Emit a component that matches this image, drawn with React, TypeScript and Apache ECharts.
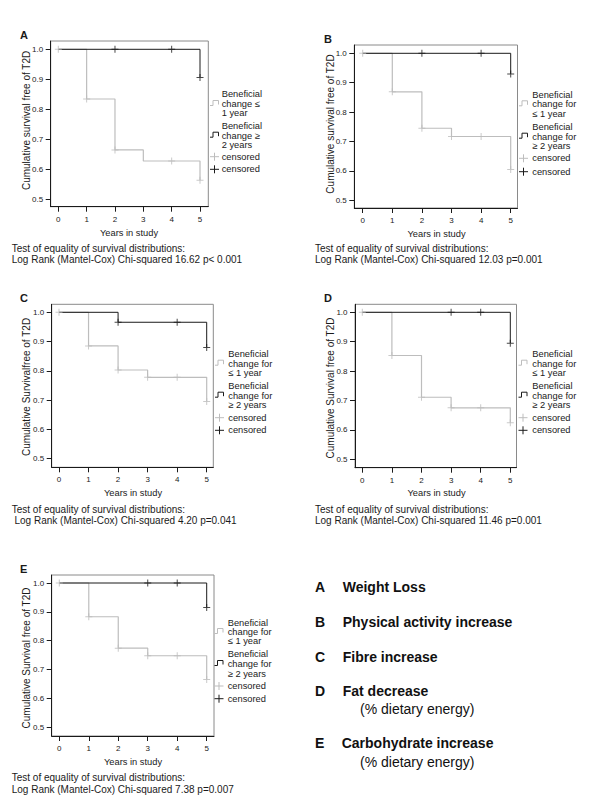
import React, { useEffect, useRef } from "react";
import * as echarts from "echarts";

// ---------- data ----------
const yearTicks = [0, 1, 2, 3, 4, 5];
const survivalTicks = [0.5, 0.6, 0.7, 0.8, 0.9, 1.0];

// A Weight loss
const A_short = [[0, 1], [1, 0.834], [2, 0.664], [3, 0.627], [5, 0.563]];
const A_long = [[0, 1], [5, 0.906]];
const A_shortCens = [[0, 1], [1, 0.834], [2, 0.664], [4, 0.627], [5, 0.563]];
const A_longCens = [[2, 1], [4, 1], [5, 0.906]];

// B Physical activity increase
const B_short = [[0, 1], [1, 0.869], [2, 0.745], [3, 0.717], [5, 0.605]];
const B_long = [[0, 1], [5, 0.93]];
const B_shortCens = [[0, 1], [1, 0.869], [2, 0.745], [3, 0.717], [4, 0.717], [5, 0.605]];
const B_longCens = [[2, 1], [4, 1], [5, 0.93]];

// C Fibre increase
const C_short = [[0, 1], [1, 0.885], [2, 0.803], [3, 0.778], [5, 0.695]];
const C_long = [[0, 1], [2, 0.966], [5, 0.88]];
const C_shortCens = [[0, 1], [1, 0.885], [2, 0.803], [3, 0.778], [4, 0.778], [5, 0.695]];
const C_longCens = [[2, 0.966], [4, 0.966], [5, 0.88]];

// D Fat decrease
const D_short = [[0, 1], [1, 0.853], [2, 0.711], [3, 0.675], [5, 0.624]];
const D_long = [[0, 1], [5, 0.895]];
const D_shortCens = [[0, 1], [1, 0.853], [2, 0.711], [3, 0.675], [4, 0.675], [5, 0.624]];
const D_longCens = [[3, 1], [4, 1], [5, 0.895]];

// E Carbohydrate increase
const E_short = [[0, 1], [1, 0.883], [2, 0.774], [3, 0.748], [5, 0.666]];
const E_long = [[0, 1], [5, 0.915]];
const E_shortCens = [[0, 1], [1, 0.883], [2, 0.774], [3, 0.748], [4, 0.748], [5, 0.666]];
const E_longCens = [[3, 1], [4, 1], [5, 0.915]];

const panelLetters = ["A", "B", "C", "D", "E"];
const yTitles = [
  "Cumulative survival free of T2D",
  "Cumulative survival free of T2D",
  "Cumulative Survivalfree of T2D",
  "Cumulative Survival free of T2D",
  "Cumulative Survival free of T2D",
];
const xTitle = "Years in study";
const testLine1 = "Test of equality of survival distributions:";
const testLine2 = [
  "Log Rank (Mantel-Cox) Chi-squared 16.62 p< 0.001",
  "Log Rank (Mantel-Cox) Chi-squared 12.03 p=0.001",
  "Log Rank (Mantel-Cox) Chi-squared 4.20 p=0.041",
  "Log Rank (Mantel-Cox) Chi-squared 11.46 p=0.001",
  "Log Rank (Mantel-Cox) Chi-squared 7.38 p=0.007",
];
const legendShort = [
  ["Beneficial", "change ≤", "1 year"],
  ["Beneficial", "change for", "≤ 1 year"],
  ["Beneficial", "change for", "≤ 1 year"],
  ["Beneficial", "change for", "≤ 1 year"],
  ["Beneficial", "change for", "≤ 1 year"],
];
const legendLong = [
  ["Beneficial", "change ≥", "2 years"],
  ["Beneficial", "change for", "≥ 2 years"],
  ["Beneficial", "change for", "≥ 2 years"],
  ["Beneficial", "change for", "≥ 2 years"],
  ["Beneficial", "change for", "≥ 2 years"],
];
const censoredLabel = "censored";

const keyLetters = ["A", "B", "C", "D", "E"];
const keyNames = ["Weight Loss", "Physical activity increase", "Fibre increase", "Fat decrease", "Carbohydrate increase"];
const keySubs = ["", "", "", "(% dietary energy)", "(% dietary energy)"];

const shortSeries = [A_short, B_short, C_short, D_short, E_short];
const longSeries = [A_long, B_long, C_long, D_long, E_long];
const shortCens = [A_shortCens, B_shortCens, C_shortCens, D_shortCens, E_shortCens];
const longCens = [A_longCens, B_longCens, C_longCens, D_longCens, E_longCens];

// ---------- layout ----------
type Layout = {
  box: [number, number, number, number];
  x0: number; x5: number; y1: number; y05: number;
  label: [number, number];
  ytitle: [number, number];
  xtitle: [number, number];
  test: [number, number, number, number];
  iconX: number; textX: number;
  lines: number[];
};
const layouts: Layout[] = [
  {
    box: [50.7, 41, 208.3, 206.7], x0: 58.3, x5: 200, y1: 49.3, y05: 199,
    label: [20, 34.5], ytitle: [26, 120.4], xtitle: [129, 232.5],
    test: [11.7, 248.3, 11.7, 259.3], iconX: 210, textX: 221.7,
    lines: [94.3, 104, 113.3, 126, 135.7, 145, 156.7, 169.3],
  },
  {
    box: [354.3, 45, 517.5, 208], x0: 362.7, x5: 510.7, y1: 53.3, y05: 200.3,
    label: [324, 39], ytitle: [330, 124], xtitle: [436.5, 234],
    test: [315, 248.3, 315, 259.3], iconX: 519, textX: 532.3,
    lines: [95, 104.3, 114, 127, 136.7, 146, 158.3, 171.7],
  },
  {
    box: [51.7, 304.3, 213.3, 467.3], x0: 59, x5: 206.7, y1: 312.3, y05: 458.7,
    label: [20, 297.5], ytitle: [26.3, 387], xtitle: [133, 493],
    test: [11.7, 509.3, 14.5, 520.5], iconX: 215, textX: 228.3,
    lines: [354, 363.7, 373, 386, 395.7, 405, 417.7, 430.3],
  },
  {
    box: [355, 304.3, 516.5, 467.7], x0: 362.3, x5: 510.3, y1: 312.3, y05: 459.3,
    label: [324, 298], ytitle: [330, 388], xtitle: [436.5, 493],
    test: [315, 509.3, 315, 520.5], iconX: 518.5, textX: 532.3,
    lines: [354.3, 363.7, 373, 386, 395.7, 405, 417.7, 430.3],
  },
  {
    box: [51.7, 575, 214, 736], x0: 59.3, x5: 206.7, y1: 583, y05: 727.3,
    label: [20, 569], ytitle: [26, 658], xtitle: [133, 762],
    test: [11.7, 777.7, 11.7, 789], iconX: 214.5, textX: 227.7,
    lines: [622.7, 632, 641.3, 654.3, 664, 673.7, 686, 698.7],
  },
];

const FONT = "'Liberation Sans', Arial, Helvetica, sans-serif";
const GREY = "#bdbdbd";
const BLACK = "#1a1a1a";
const FRAME = "#8a8a8a";
const TEXT = "#1a1a1a";
const PLUS = "path://M3,0H4V3H7V4H4V7H3V4H0V3H3Z";

function txt(x: number, y: number, text: string, opts: any = {}) {
  const align = opts.align || "left";
  return {
    type: "text",
    x,
    y,
    rotation: opts.rotation || 0,
    silent: true,
    z: 10,
    style: {
      text,
      fill: opts.fill || TEXT,
      fontSize: opts.fontSize || 10,
      fontFamily: FONT,
      fontWeight: opts.fontWeight || "normal",
      align,
      textAlign: align,
      verticalAlign: "middle",
      textVerticalAlign: "middle",
    },
  };
}

function buildOption() {
  const grid: any[] = [];
  const xAxis: any[] = [];
  const yAxis: any[] = [];
  const series: any[] = [];
  const graphic: any[] = [];

  layouts.forEach((L, i) => {
    const [l, t, r, b] = L.box;
    const xu = (L.x5 - L.x0) / 5;
    const yu = (L.y05 - L.y1) / 0.5;
    const xmin = -(L.x0 - l) / xu;
    const xmax = 5 + (r - L.x5) / xu;
    const ymax = 1 + (L.y1 - t) / yu;
    const ymin = 0.5 - (b - L.y05) / yu;

    grid.push({
      left: l, top: t, width: r - l, height: b - t,
      show: true, borderColor: FRAME, borderWidth: 1, backgroundColor: "transparent",
    });
    xAxis.push({
      type: "value", gridIndex: i, min: xmin, max: xmax,
      axisLine: { show: true, onZero: false, lineStyle: { color: BLACK, width: 1 } },
      axisTick: { show: true, length: 5, customValues: yearTicks, lineStyle: { color: BLACK, width: 1 } },
      axisLabel: { customValues: yearTicks, fontSize: 8, color: "#222", margin: 8.5, fontFamily: FONT, formatter: (v: number) => String(Math.round(v)) },
      splitLine: { show: false },
    });
    yAxis.push({
      type: "value", gridIndex: i, min: ymin, max: ymax,
      axisLine: { show: true, onZero: false, lineStyle: { color: BLACK, width: 1 } },
      axisTick: { show: true, length: 5, customValues: survivalTicks, lineStyle: { color: BLACK, width: 1 } },
      axisLabel: { customValues: survivalTicks, fontSize: 8, color: "#222", margin: 7.5, fontFamily: FONT, formatter: (v: number) => v.toFixed(1) },
      splitLine: { show: false },
    });

    series.push({
      type: "line", xAxisIndex: i, yAxisIndex: i, data: shortSeries[i], step: "end",
      symbol: "none", lineStyle: { color: GREY, width: 1.2 }, z: 2, silent: true,
    });
    series.push({
      type: "line", xAxisIndex: i, yAxisIndex: i, data: longSeries[i], step: "end",
      symbol: "none", lineStyle: { color: BLACK, width: 1 }, z: 3, silent: true,
    });
    series.push({
      type: "scatter", xAxisIndex: i, yAxisIndex: i, data: shortCens[i],
      symbol: PLUS, symbolSize: 7, itemStyle: { color: GREY }, z: 4, silent: true,
    });
    series.push({
      type: "scatter", xAxisIndex: i, yAxisIndex: i, data: longCens[i],
      symbol: PLUS, symbolSize: 7, itemStyle: { color: BLACK }, z: 5, silent: true,
    });

    // texts
    graphic.push(txt(L.label[0], L.label[1], panelLetters[i], { fontSize: 11, fontWeight: "bold" }));
    graphic.push(txt(L.ytitle[0], L.ytitle[1], yTitles[i], { align: "center", rotation: Math.PI / 2, fontSize: 10 }));
    graphic.push(txt(L.xtitle[0], L.xtitle[1], xTitle, { align: "center", fontSize: 9.3 }));
    graphic.push(txt(L.test[0], L.test[1], testLine1, { fontSize: 10 }));
    graphic.push(txt(L.test[2], L.test[3], testLine2[i], { fontSize: 10 }));

    // legend
    const lf = 9.3;
    legendShort[i].forEach((s, k) => graphic.push(txt(L.textX, L.lines[k], s, { fontSize: lf })));
    legendLong[i].forEach((s, k) => graphic.push(txt(L.textX, L.lines[3 + k], s, { fontSize: lf })));
    graphic.push(txt(L.textX, L.lines[6], censoredLabel, { fontSize: lf }));
    graphic.push(txt(L.textX, L.lines[7], censoredLabel, { fontSize: lf }));

    const ix = L.iconX;
    const stepIcon = (c: number, color: string) => ({
      type: "polyline", silent: true, z: 10,
      shape: { points: [[ix, c + 2.5], [ix + 3, c + 2.5], [ix + 3, c - 2.5], [ix + 8.5, c - 2.5], [ix + 8.5, c + 1.5]] },
      style: { stroke: color, lineWidth: 1, fill: "none" },
    });
    graphic.push(stepIcon(L.lines[1] - 1, GREY));
    graphic.push(stepIcon(L.lines[4] - 1, BLACK));
    const plusIcon = (c: number, color: string) => ({
      type: "group", silent: true, z: 10,
      children: [
        { type: "line", shape: { x1: ix, y1: c, x2: ix + 9, y2: c }, style: { stroke: color, lineWidth: 1 } },
        { type: "line", shape: { x1: ix + 4.5, y1: c - 4, x2: ix + 4.5, y2: c + 4 }, style: { stroke: color, lineWidth: 1 } },
      ],
    });
    graphic.push(plusIcon(L.lines[6], GREY));
    graphic.push(plusIcon(L.lines[7], BLACK));
  });

  // key
  const keyY = [587.3, 621.7, 656.7, 691, 743.3];
  const subY = [0, 0, 0, 709.3, 761.7];
  keyLetters.forEach((k, i) => {
    graphic.push(txt(315, keyY[i], k, { fontSize: 14, fontWeight: "bold", fill: "#111" }));
    graphic.push(txt(i === 4 ? 341.7 : 342.7, keyY[i], keyNames[i], { fontSize: 14, fontWeight: "bold", fill: "#111" }));
    if (keySubs[i]) graphic.push(txt(360, subY[i], keySubs[i], { fontSize: 14, fill: "#111" }));
  });

  return {
    animation: false,
    backgroundColor: "#ffffff",
    textStyle: { fontFamily: FONT },
    grid, xAxis, yAxis, series, graphic,
  };
}

export default function App() {
  const ref = useRef<HTMLDivElement>(null);
  useEffect(() => {
    if (!ref.current) return;
    const chart = echarts.init(ref.current, undefined, { renderer: "svg" });
    chart.setOption(buildOption() as any);
    return () => chart.dispose();
  }, []);
  return (
    <div
      ref={ref}
      style={{ position: "fixed", left: 0, top: 0, width: 600, height: 798, background: "#fff" }}
    />
  );
}
